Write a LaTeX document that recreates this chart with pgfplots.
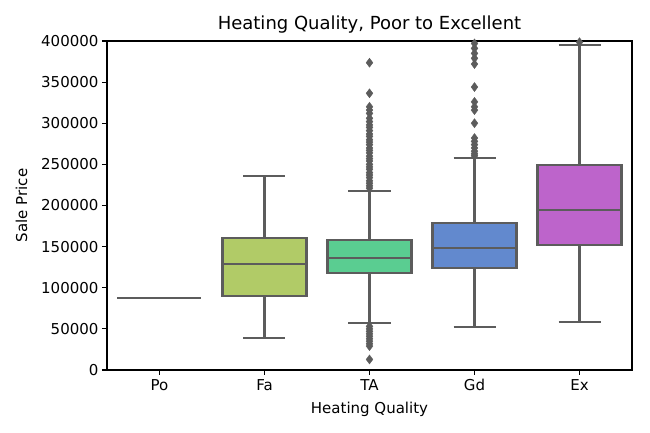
\documentclass[border=0pt]{standalone}
\usepackage{pgfplots}
\pgfplotsset{compat=1.18}
\usepackage{fontspec}
\setmainfont{DejaVu Sans}
\definecolor{lg}{RGB}{92,92,92}
\definecolor{cFa}{RGB}{177,203,103}
\definecolor{cTA}{RGB}{90,205,145}
\definecolor{cGd}{RGB}{98,137,206}
\definecolor{cEx}{RGB}{189,100,203}
\pgfplotsset{
  whisk/.style={draw=lg, line width=2.1pt, no marks, unbounded coords=jump},
  bx/.style={draw=lg, line width=2.1pt, no marks, fill=#1},
  med/.style={draw=lg, line width=2.1pt, no marks},
  outl/.style={only marks, mark=diamond*, mark size=4.5pt, mark options={fill=lg, draw=lg, line width=0.4pt}},
}
\begin{document}
\begin{tikzpicture}
\begin{axis}[
  name=ax,
  scale only axis,
  width=525pt, height=329pt,
  xmin=-0.5, xmax=4.5, ymin=0, ymax=400000,
  xtick={0,1,2,3,4},
  xticklabels={Po,Fa,TA,Gd,Ex},
  ytick={0,50000,100000,150000,200000,250000,300000,350000,400000},
  scaled y ticks=false,
  yticklabel style={/pgf/number format/fixed,/pgf/number format/1000 sep={}},
  /pgf/number format/assume math mode=true,
  tick label style={font=\fontsize{15}{18}\selectfont},
  label style={font=\fontsize{15}{18}\selectfont},
  xticklabel style={yshift=-1pt},
  xlabel style={yshift=-4pt},
  ylabel style={yshift=7pt},
  title style={font=\fontsize{18}{21}\selectfont, yshift=-2pt},
  title={Heating Quality, Poor to Excellent},
  xlabel={Heating Quality},
  ylabel={Sale Price},
  tick align=outside,
  xtick pos=left, ytick pos=left,
  major tick length=5pt,
  every tick/.style={black, line width=1.2pt},
  axis line style={line width=1.2pt},
  clip=true,
]
% Po
\addplot[med] coordinates {(-0.4,87000) (0.4,87000)};
% Fa
\addplot[whisk] coordinates {(1,38500) (1,90300) (nan,nan) (1,160100) (1,236200) (nan,nan)
  (0.8,38500) (1.2,38500) (nan,nan) (0.8,236200) (1.2,236200)};
\addplot[bx=cFa] coordinates {(0.6,90300) (1.4,90300) (1.4,160100) (0.6,160100)} -- cycle;
\addplot[med] coordinates {(0.6,128500) (1.4,128500)};
% TA
\addplot[whisk] coordinates {(2,56700) (2,117500) (nan,nan) (2,158000) (2,218000) (nan,nan)
  (1.8,56700) (2.2,56700) (nan,nan) (1.8,218000) (2.2,218000)};
\addplot[bx=cTA] coordinates {(1.6,117500) (2.4,117500) (2.4,158000) (1.6,158000)} -- cycle;
\addplot[med] coordinates {(1.6,135800) (2.4,135800)};
\addplot[outl] coordinates {
 (2,373600) (2,336400) (2,320000) (2,316100) (2,312000) (2,306000) (2,302000) (2,298000) (2,295000)
 (2,291000) (2,287000) (2,284000) (2,280000) (2,277000) (2,274000) (2,270000) (2,267000)
 (2,264000) (2,260000) (2,257000) (2,254000) (2,250000) (2,247000) (2,244000) (2,240000)
 (2,237000) (2,234000) (2,230000) (2,227000) (2,224000) (2,221000)
 (2,53000) (2,50000) (2,47000) (2,44000) (2,41000) (2,38000) (2,35000) (2,32000) (2,29000) (2,12800)};
% Gd
\addplot[whisk] coordinates {(3,51900) (3,124000) (nan,nan) (3,178300) (3,258100) (nan,nan)
  (2.8,51900) (3.2,51900) (nan,nan) (2.8,258100) (3.2,258100)};
\addplot[bx=cGd] coordinates {(2.6,124000) (3.4,124000) (3.4,178300) (2.6,178300)} -- cycle;
\addplot[med] coordinates {(2.6,148700) (3.4,148700)};
\addplot[outl] coordinates {
 (3,397000) (3,391000) (3,385000) (3,379000) (3,372000) (3,344000) (3,326000) (3,320000) (3,316000)
 (3,300000) (3,282000) (3,278000) (3,274000) (3,270000) (3,266000) (3,263000) (3,260500)};
% Ex
\addplot[whisk] coordinates {(4,58700) (4,152400) (nan,nan) (4,248900) (4,395500) (nan,nan)
  (3.8,58700) (4.2,58700) (nan,nan) (3.8,395500) (4.2,395500)};
\addplot[bx=cEx] coordinates {(3.6,152400) (4.4,152400) (4.4,248900) (3.6,248900)} -- cycle;
\addplot[med] coordinates {(3.6,194200) (4.4,194200)};
\addplot[outl] coordinates {(4,398500)};
\end{axis}
\pgfresetboundingbox
\path ([xshift=-107pt,yshift=-63pt]ax.south west) rectangle ([xshift=18pt,yshift=41pt]ax.north east);
\end{tikzpicture}
\end{document}
